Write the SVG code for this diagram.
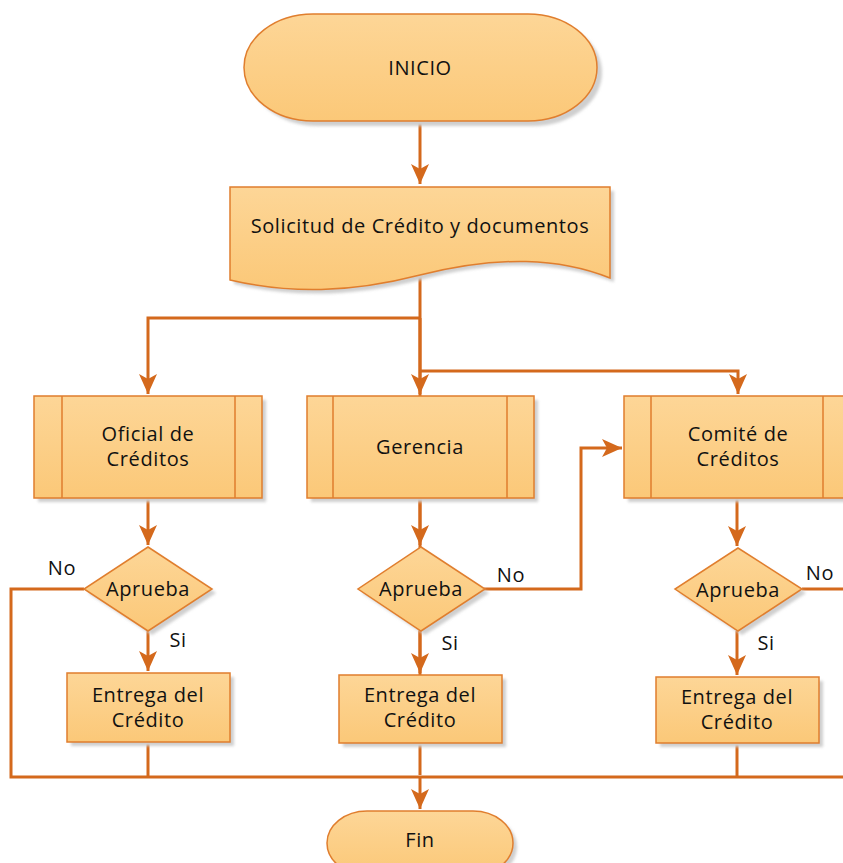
<svg xmlns="http://www.w3.org/2000/svg" width="843" height="863" viewBox="0 0 843 863">
<defs>
<linearGradient id="g" x1="0" y1="0" x2="0" y2="1">
<stop offset="0" stop-color="#FDD697"/>
<stop offset="1" stop-color="#FBC878"/>
</linearGradient>
<marker id="ah" markerWidth="22" markerHeight="18" refX="20" refY="9" orient="auto" markerUnits="userSpaceOnUse">
<path d="M0,0 L20,9 L0,18 L5,9 Z" fill="#D4691C"/>
</marker>
<filter id="sh" x="-10%" y="-10%" width="130%" height="130%">
<feGaussianBlur stdDeviation="1.5"/>
</filter>
</defs>
<style>
.n{fill:url(#g);stroke:#E07E2E;stroke-width:1.5}
.s{fill:#cfcfcf;filter:url(#sh)}
.l{fill:none;stroke:#E07E2E;stroke-width:1.5}
.c{fill:none;stroke:#D4691C;stroke-width:3}
.t{font-family:"Open Sans","Liberation Sans",sans-serif;font-size:20px;letter-spacing:0.6px;fill:#111;text-anchor:middle}
</style>
<rect width="843" height="863" fill="#fff"/>

<g id="connectors">
<path class="c" d="M420,122 V184" marker-end="url(#ah)"/>
<path class="c" d="M420,270 V775"/>
<path class="c" d="M420,318 H148 V394" marker-end="url(#ah)"/>
<path class="c" d="M420,318 V394" marker-end="url(#ah)"/>
<path class="c" d="M420,371 H738 V394" marker-end="url(#ah)"/>
<path class="c" d="M148,498 V545" marker-end="url(#ah)"/>
<path class="c" d="M420,498 V545" marker-end="url(#ah)"/>
<path class="c" d="M737,498 V546" marker-end="url(#ah)"/>
<path class="c" d="M148,631 V671" marker-end="url(#ah)"/>
<path class="c" d="M420,631 V673" marker-end="url(#ah)"/>
<path class="c" d="M737,631 V675" marker-end="url(#ah)"/>
<path class="c" d="M84,589 H11 V777 H843"/>
<path class="c" d="M148,742 V777"/>
<path class="c" d="M737,743 V777"/>
<path class="c" d="M420,777 V809" marker-end="url(#ah)"/>
<path class="c" d="M484,589 H581 V448 H622" marker-end="url(#ah)"/>
<path class="c" d="M802,589 H843"/>
<text class="t" x="62" y="575">No</text>
<text class="t" x="511" y="582">No</text>
<text class="t" x="820" y="580">No</text>
<text class="t" x="178" y="647">Si</text>
<text class="t" x="450" y="650">Si</text>
<text class="t" x="766" y="650">Si</text>
</g>

<g id="inicio">
<rect class="s" x="249" y="19" width="353" height="107" rx="69" ry="53.5"/>
<rect class="n" x="244" y="14" width="353" height="107" rx="69" ry="53.5"/>
<text class="t" x="420" y="75">INICIO</text>
</g>

<g id="solicitud">
<path class="s" d="M234,191 H614 V282 C560,262 500,259 424,279 C354,297 294,298 234,284 Z"/>
<path class="n" d="M230,187 H610 V278 C560,258 500,255 420,275 C350,293 290,294 230,280 Z"/>
<text class="t" x="420" y="233">Solicitud de Crédito y documentos</text>
</g>

<g id="oficial">
<rect class="s" x="38" y="400" width="228" height="102"/>
<rect class="n" x="34" y="396" width="228" height="102"/>
<path class="l" d="M62,396 V498 M235,396 V498"/>
<text class="t" x="148" y="441">Oficial de</text>
<text class="t" x="148" y="466">Créditos</text>
</g>

<g id="gerencia">
<rect class="s" x="311" y="400" width="227" height="102"/>
<rect class="n" x="307" y="396" width="227" height="102"/>
<path class="l" d="M333,396 V498 M507,396 V498"/>
<text class="t" x="420" y="454">Gerencia</text>
</g>

<g id="comite">
<rect class="s" x="628" y="400" width="228" height="102"/>
<rect class="n" x="624" y="396" width="228" height="102"/>
<path class="l" d="M651,396 V498 M823,396 V498"/>
<text class="t" x="738" y="441">Comité de</text>
<text class="t" x="738" y="466">Créditos</text>
</g>

<g id="aprueba1">
<path class="s" d="M152,551 L216,593 L152,635 L88,593 Z"/>
<path class="n" d="M148,547 L212,589 L148,631 L84,589 Z"/>
<text class="t" x="148" y="596">Aprueba</text>
</g>

<g id="aprueba2">
<path class="s" d="M425,551 L489,593 L425,635 L362,593 Z"/>
<path class="n" d="M421,547 L485,589 L421,631 L358,589 Z"/>
<text class="t" x="421" y="596">Aprueba</text>
</g>

<g id="aprueba3">
<path class="s" d="M742,552 L806,593 L742,635 L679,593 Z"/>
<path class="n" d="M738,548 L802,589 L738,631 L675,589 Z"/>
<text class="t" x="738" y="597">Aprueba</text>
</g>

<g id="entrega1">
<rect class="s" x="71" y="677" width="163" height="69"/>
<rect class="n" x="67" y="673" width="163" height="69"/>
<text class="t" x="148" y="702">Entrega del</text>
<text class="t" x="148" y="727">Crédito</text>
</g>

<g id="entrega2">
<rect class="s" x="343" y="679" width="163" height="68"/>
<rect class="n" x="339" y="675" width="163" height="68"/>
<text class="t" x="420" y="702">Entrega del</text>
<text class="t" x="420" y="727">Crédito</text>
</g>

<g id="entrega3">
<rect class="s" x="660" y="681" width="163" height="66"/>
<rect class="n" x="656" y="677" width="163" height="66"/>
<text class="t" x="737" y="704">Entrega del</text>
<text class="t" x="737" y="729">Crédito</text>
</g>

<g id="fin">
<rect class="s" x="331" y="815" width="186" height="64" rx="40" ry="32"/>
<rect class="n" x="327" y="811" width="186" height="64" rx="40" ry="32"/>
<text class="t" x="420" y="847">Fin</text>
</g>
</svg>
